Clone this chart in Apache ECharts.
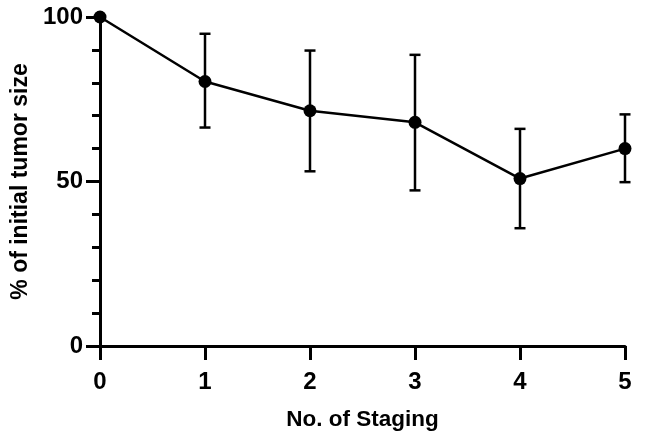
<!DOCTYPE html>
<html>
<head>
<meta charset="utf-8">
<script src="https://cdn.jsdelivr.net/npm/echarts@6/dist/echarts.min.js"></script>
<style>
html,body{margin:0;padding:0;background:#fff;}
#c{width:646px;height:436px;}
</style>
</head>
<body>
<div id="c"></div>
<script>
// Data
var stages = [0, 1, 2, 3, 4, 5];
var meanValues = [100, 80.4, 71.5, 68.0, 50.9, 60.0];
var upperValues = [null, 94.9, 89.8, 88.5, 66.0, 70.4];
var lowerValues = [null, 66.4, 53.1, 47.3, 35.8, 49.8];
var yTicks = [0, 50, 100];

var FONT = '"Liberation Sans", Arial, Helvetica, sans-serif';
var chart = echarts.init(document.getElementById('c'), null, {renderer: 'canvas'});

var lineData = stages.map(function (s, i) { return [s, meanValues[i]]; });
var errData = [];
stages.forEach(function (s, i) {
  if (upperValues[i] != null) errData.push([s, lowerValues[i], upperValues[i]]);
});

var option = {
  backgroundColor: '#fff',
  animation: false,
  grid: {left: 100, right: 21, top: 17, bottom: 88, containLabel: false},
  xAxis: {
    type: 'value', min: 0, max: 5, interval: 1,
    name: 'No. of Staging', nameLocation: 'middle', nameGap: 62,
    nameTextStyle: {fontFamily: FONT, fontWeight: 'bold', fontSize: 22.5, color: '#000'},
    axisLine: {show: true, onZero: false, lineStyle: {color: '#000', width: 3}},
    axisTick: {show: true, length: 14, lineStyle: {color: '#000', width: 3}},
    axisLabel: {fontFamily: FONT, fontWeight: 'bold', fontSize: 24, color: '#000', margin: 24},
    splitLine: {show: false}
  },
  yAxis: {
    type: 'value', min: 0, max: 100, interval: 50,
    name: '% of initial tumor size', nameLocation: 'middle', nameGap: 67, nameRotate: 90,
    nameTextStyle: {fontFamily: FONT, fontWeight: 'bold', fontSize: 23, color: '#000'},
    axisLine: {show: true, onZero: false, lineStyle: {color: '#000', width: 3}},
    axisTick: {show: true, length: 14, lineStyle: {color: '#000', width: 3}},
    minorTick: {show: true, splitNumber: 5, length: 8, lineStyle: {color: '#000', width: 3}},
    axisLabel: {fontFamily: FONT, fontWeight: 'bold', fontSize: 24, color: '#000', margin: 17,
      formatter: function (v) { return yTicks.indexOf(v) >= 0 ? String(v) : ''; }},
    splitLine: {show: false}
  },
  series: [
    {
      type: 'custom',
      clip: false,
      z: 3,
      data: errData,
      renderItem: function (params, api) {
        var x = api.value(0);
        var lo = api.coord([x, api.value(1)]);
        var hi = api.coord([x, api.value(2)]);
        var cw = 5.5;
        var style = {stroke: '#000', lineWidth: 2.5};
        return {
          type: 'group',
          children: [
            {type: 'line', shape: {x1: lo[0], y1: lo[1], x2: hi[0], y2: hi[1]}, style: style},
            {type: 'line', shape: {x1: hi[0] - cw, y1: hi[1], x2: hi[0] + cw, y2: hi[1]}, style: style},
            {type: 'line', shape: {x1: lo[0] - cw, y1: lo[1], x2: lo[0] + cw, y2: lo[1]}, style: style}
          ]
        };
      }
    },
    {
      type: 'line',
      clip: false,
      z: 4,
      data: lineData,
      symbol: 'circle',
      symbolSize: 13,
      lineStyle: {color: '#000', width: 2.5},
      itemStyle: {color: '#000'}
    }
  ]
};
chart.setOption(option);
</script>
</body>
</html>
